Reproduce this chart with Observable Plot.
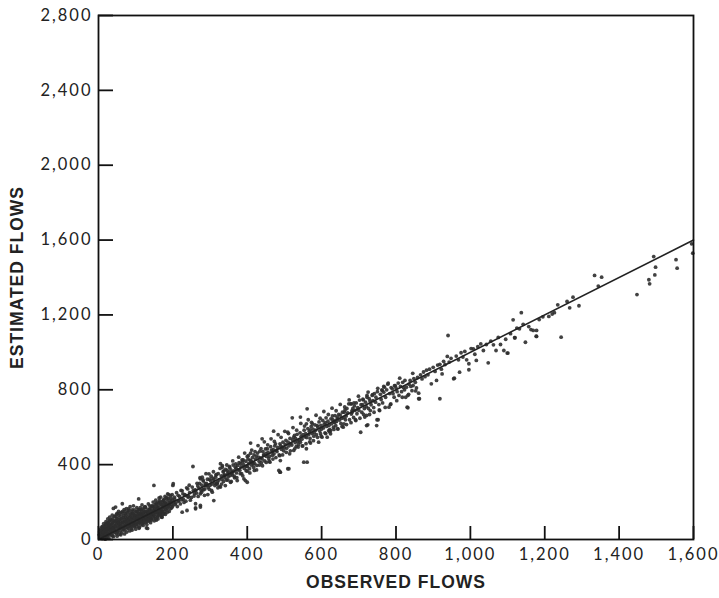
<!DOCTYPE html>
<html><head><meta charset="utf-8">
<script src="https://cdn.jsdelivr.net/npm/d3@7"></script>
<script src="https://cdn.jsdelivr.net/npm/@observablehq/plot@0.6"></script>
<style>
body{margin:0;background:#fff}
#chart svg{display:block}
#chart g[aria-label$="axis label"] text{font-family:"Liberation Sans",Arial,sans-serif;font-weight:bold;font-size:17.5px;letter-spacing:1px;fill:#222}
#chart g[aria-label$="tick label"] text{letter-spacing:2px}
</style></head><body><div id="chart"></div>
<script>
// Tick values
const xTicks = [0,200,400,600,800,1000,1200,1400,1600];
const yTicks = [0,400,800,1200,1600,2000,2400,2800];
// Reference line (estimated = observed)
const lineObs = [0,1600];
const lineEst = [0,1600];
// Points: [observed, estimated]
const lowCluster = [[2,25],[3,40],[4,8],[5,12],[6,55],[7,30],[8,18],[9,65],[10,5],[10,70],[11,42],[12,45],[13,22],[14,85],[15,20],[16,52],[17,35],[18,60],[18,2],[19,78],[20,35],[20,95],[21,48],[22,10],[23,62],[24,88],[25,50],[25,110],[26,30],[27,72],[28,75],[28,8],[29,98],[30,25],[30,120],[31,55],[32,60],[33,82],[34,44],[35,40],[35,105],[36,66],[37,130],[38,90],[38,20],[39,58],[40,15],[40,166],[41,76],[42,55],[43,100],[44,38],[45,70],[45,125],[46,173],[47,86],[48,30],[49,112],[50,100],[50,18],[50,140],[51,64],[52,45],[53,94],[54,150],[55,80],[55,130],[56,28],[57,108],[58,60],[59,74],[60,110],[60,25],[61,145],[62,35],[63,90],[64,191],[65,90],[65,150],[66,52],[67,118],[68,70],[69,160],[70,50],[70,30],[71,98],[72,120],[73,138],[74,64],[75,85],[75,165],[76,40],[77,112],[78,100],[79,152],[80,60],[81,164],[82,130],[83,78],[84,46],[85,95],[85,175],[86,122],[87,140],[88,75],[89,58],[90,115],[90,50],[91,158],[92,140],[93,92],[94,180],[95,85],[96,68],[97,128],[98,105],[99,146],[100,125],[100,55],[101,82],[102,70],[103,170],[104,112],[105,150],[106,96],[107,134],[108,110],[108,217],[109,60],[110,90],[110,65],[111,160],[112,130],[113,142],[114,78],[115,160],[116,104],[117,185],[118,100],[119,122],[120,140],[120,75],[121,88],[122,115],[123,152],[124,170],[125,175],[126,173],[127,108],[128,130],[129,62],[130,95],[130,80],[131,145],[132,150],[132,59],[133,118],[134,190],[135,120],[136,100],[137,160],[138,165],[139,136],[140,140],[140,90],[141,112],[142,110],[143,178],[144,150],[145,180],[146,126],[147,200],[148,130],[149,289],[150,155],[150,100],[151,168],[152,120],[153,142],[154,210],[155,190],[156,104],[157,176],[158,145],[159,128],[160,170],[160,110],[161,196],[162,135],[163,222],[164,158],[165,200],[166,140],[167,226],[168,160],[169,120],[170,185],[170,125],[171,119],[172,150],[173,206],[174,172],[175,210],[176,138],[177,192],[178,175],[179,230],[180,195],[180,135],[182,160],[184,215],[185,165],[186,244],[188,220],[189,180],[190,185],[190,150],[192,206],[194,234],[195,200],[196,168],[198,173],[198,240],[200,180],[200,289],[201,298],[202,199],[204,226],[205,215],[206,188],[208,195],[210,250],[212,176],[214,236],[215,205],[216,208],[218,230],[220,190],[222,262],[224,212],[225,260],[225,146],[227,244],[228,215],[230,198],[232,240],[234,235],[235,205],[237,276],[238,155],[240,270],[241,226],[242,230],[244,290],[245,250],[247,210],[250,225],[252,280],[254,390],[255,262],[257,232],[258,245],[260,265],[261,191],[261,164],[261,262],[261,169]];
const blobExtra = [[4,18],[6,32],[8,48],[9,10],[11,28],[12,60],[14,38],[15,72],[16,12],[17,50],[19,26],[20,68],[21,84],[22,40],[23,18],[24,56],[26,92],[27,44],[28,62],[29,30],[31,80],[32,104],[33,48],[34,68],[36,22],[37,88],[38,112],[39,40],[41,60],[42,96],[43,122],[44,72],[46,50],[47,102],[48,134],[49,82],[51,40],[52,116],[53,66],[54,90],[56,138],[57,76],[58,98],[59,46],[60,124],[61,86],[62,70],[63,110],[64,140],[66,96],[67,58],[68,128],[69,84],[70,108],[71,150],[72,76],[73,100],[74,132],[76,92],[77,62],[78,120],[79,144],[80,84],[81,106],[82,72],[83,156],[84,114],[86,96],[87,68],[88,132],[89,108],[90,148],[91,84],[92,120],[93,104],[94,136],[95,74],[96,158],[97,114],[98,90],[99,128],[101,110],[102,150],[103,88],[104,132],[105,118],[106,80],[107,160],[108,140],[109,100],[110,124],[111,92],[112,170],[113,114],[114,136],[115,96],[116,150],[117,128],[118,84],[119,164],[120,118],[121,142],[122,100],[123,130],[124,108],[125,150],[126,92],[127,170],[128,120],[129,146],[130,112],[131,134],[133,158],[134,100],[135,144],[136,126],[137,110],[138,180],[139,122],[141,150],[142,132],[143,104],[144,166],[146,140],[147,116],[148,176],[149,150],[151,134],[152,186],[153,110],[154,160],[156,146],[157,196],[158,120],[159,170],[161,150],[162,182],[163,128],[164,208],[166,164],[167,140],[168,190],[169,150],[171,176],[172,200],[173,134],[174,160],[176,214],[177,180],[178,150],[179,196],[181,170],[183,224],[184,186],[185,146],[187,200],[188,176],[189,240],[191,190],[193,164],[195,220],[197,186],[199,210]];
const midBand = [[264,248],[267,286],[270,275],[272,300],[274,173],[274,182],[274,244],[274,324],[276,262],[278,290],[279,333],[280,265],[282,312],[283,266],[285,236],[287,298],[288,289],[290,300],[292,289],[293,322],[295,278],[297,351],[298,268],[300,290],[301,315],[303,338],[305,296],[306,253],[308,326],[310,208],[310,320],[312,302],[315,333],[316,344],[318,296],[319,298],[320,305],[322,352],[324,318],[326,284],[328,280],[328,405],[330,340],[332,322],[333,395],[333,386],[335,362],[336,310],[338,346],[339,342],[340,330],[342,374],[344,318],[346,369],[347,352],[349,336],[350,360],[352,390],[354,342],[355,306],[356,372],[358,354],[359,360],[360,345],[362,398],[364,366],[366,330],[368,386],[370,380],[371,356],[373,315],[374,396],[376,372],[378,410],[380,370],[382,405],[383,388],[385,352],[387,416],[389,426],[390,400],[391,324],[392,380],[395,315],[396,418],[398,392],[400,390],[400,444],[400,365],[400,306],[402,430],[404,406],[406,378],[408,424],[409,461],[409,515],[410,420],[411,398],[413,413],[414,438],[416,404],[418,452],[419,369],[420,405],[422,430],[424,446],[426,396],[428,462],[430,440],[432,418],[434,472],[436,436],[438,410],[440,430],[440,538],[442,470],[444,452],[445,449],[447,420],[449,484],[450,460],[452,444],[454,485],[456,466],[458,432],[460,445],[461,413],[463,496],[465,478],[467,467],[468,450],[470,480],[471,579],[472,458],[474,500],[476,511],[478,476],[480,470],[482,492],[485,369],[486,452],[488,511],[488,360],[489,422],[489,360],[490,500],[492,482],[494,493],[496,520],[498,474],[500,490],[502,508],[504,530],[506,488],[509,573],[509,378],[510,520],[512,378],[512,500],[514,458],[515,540],[517,512],[520,505],[521,650],[522,532],[525,547],[525,476],[527,556],[529,518],[530,540],[532,498],[534,562],[536,524],[538,508],[540,530],[542,570],[543,520],[543,654],[545,552],[547,536],[549,500],[550,560],[552,413],[553,584],[555,548],[557,566],[559,618],[559,485],[560,545],[561,698],[561,413],[563,592],[565,560],[567,578],[569,540],[570,585],[570,515],[572,604],[574,566],[575,618],[577,590],[579,552],[580,570],[582,612],[584,584],[586,560],[588,609],[590,600],[592,520],[593,628],[595,580],[597,565],[598,610],[600,590],[601,547],[603,636],[605,596],[607,616],[609,570],[610,625],[612,650],[614,604],[615,547],[617,632],[619,582],[620,610],[622,588],[624,565],[624,582],[625,645],[627,618],[629,660],[630,640],[632,600],[634,626],[635,632],[635,627],[636,662],[638,608],[640,630],[642,654],[642,645],[644,590],[646,668],[648,638]];
const midExtra = [[265,300],[268,230],[273,330],[277,252],[281,318],[286,270],[289,352],[294,240],[299,322],[304,262],[309,362],[313,288],[317,348],[321,276],[327,380],[331,296],[337,366],[341,288],[345,398],[348,318],[353,384],[357,310],[361,420],[365,338],[369,404],[372,330],[377,440],[381,352],[386,426],[388,340],[393,462],[397,368],[403,448],[407,356],[412,478],[417,386],[421,470],[425,372],[429,502],[433,398],[437,486],[441,394],[446,522],[451,412],[455,506],[459,418],[464,538],[469,430],[473,524],[477,438],[483,560],[487,448],[491,546],[495,452],[501,578],[505,466],[511,566],[516,474],[523,598],[528,486],[533,584],[537,494],[544,620],[548,500],[554,606],[558,512],[564,640],[568,522],[573,626],[578,528],[585,664],[589,546],[596,648],[599,552],[606,684],[611,566],[618,668],[621,576],[628,702],[633,588],[639,688],[643,592],[650,722],[655,604],[662,708],[667,614],[674,746],[679,624],[687,730],[692,636],[699,766],[703,648],[711,750],[716,654],[725,788],[729,668],[737,774],[741,680],[751,808],[755,692],[763,796],[771,706],[779,836],[786,724],[796,822],[802,742],[810,862],[817,760],[824,850],[834,776],[845,888],[853,794]];
const upperPoints = [[650,665],[652,620],[654,648],[656,680],[658,600],[660,650],[660,618],[661,680],[663,692],[664,640],[666,660],[668,700],[670,676],[673,725],[675,640],[678,725],[680,725],[680,670],[682,689],[682,680],[684,700],[686,652],[688,714],[690,690],[691,640],[693,730],[695,672],[697,704],[700,690],[702,745],[705,573],[706,720],[708,680],[710,720],[712,746],[713,668],[715,700],[718,734],[720,710],[721,663],[721,609],[722,760],[722,770],[724,613],[726,700],[728,752],[730,740],[731,689],[733,720],[736,770],[738,742],[740,705],[742,780],[745,734],[746,760],[748,609],[749,640],[750,790],[752,640],[754,721],[756,689],[758,776],[760,748],[762,800],[764,730],[767,787],[767,818],[769,814],[772,760],[775,800],[778,830],[781,707],[783,780],[785,721],[787,812],[790,805],[792,779],[795,760],[798,822],[800,810],[803,790],[806,836],[808,770],[812,818],[815,790],[818,840],[820,812],[823,800],[826,760],[828,814],[830,707],[832,770],[832,704],[835,830],[838,850],[840,818],[843,795],[846,823],[848,860],[852,840],[855,810],[858,866],[861,782],[861,752],[863,752],[866,880],[870,858],[874,895],[878,870],[882,905],[886,880],[890,910],[895,832],[900,920],[905,898],[909,850],[912,932],[918,752],[918,936],[922,910],[924,885],[928,952],[932,935],[938,978],[940,1090],[943,948],[948,968],[955,859],[957,862],[962,980],[968,960],[971,894],[975,998],[980,975],[985,1005],[990,960],[996,907],[996,939],[1002,1020],[1008,1019],[1012,990],[1016,957],[1020,1030],[1028,1045],[1035,1010],[1043,1042],[1048,944],[1055,1060],[1062,1040],[1069,1010],[1075,1080],[1081,1042],[1090,1010],[1095,1070],[1099,996],[1101,996],[1108,1100],[1115,1174],[1119,1078],[1120,1078],[1125,1130],[1132,1126],[1137,1212],[1142,1150],[1148,1054],[1157,1138],[1163,1122],[1169,1117],[1177,1086],[1178,1117],[1178,1085],[1185,1175],[1195,1190],[1211,1192],[1220,1205],[1226,1212],[1235,1254],[1244,1081],[1260,1272],[1267,1238],[1276,1295],[1292,1249],[1334,1411],[1344,1354],[1353,1402],[1448,1309],[1480,1388],[1482,1366],[1493,1512],[1496,1414],[1498,1455],[1553,1495],[1556,1450],[1595,1580],[1598,1530]];

const points = [...lowCluster, ...blobExtra, ...midBand, ...midExtra, ...upperPoints].map(([o, e]) => ({o, e}));
const line = lineObs.map((o, i) => ({o, e: lineEst[i]}));
const fmt = d3.format(",");
const W = 719, H = 598, mT = 15, mR = 26, mB = 59, mL = 98;
const innerW = W - mL - mR, innerH = H - mT - mB;

const chart = Plot.plot({
  width: W, height: H,
  marginTop: mT, marginRight: mR, marginBottom: mB, marginLeft: mL,
  style: {fontFamily: "Lato, 'DejaVu Sans', sans-serif", fontSize: "16.5px", color: "#222", background: "#fff"},
  x: {domain: [0, 1600]},
  y: {domain: [0, 2800]},
  marks: [
    Plot.dot(points, {x: "o", y: "e", r: 1.9, fill: "#2e2e2e", fillOpacity: 0.9, stroke: null}),
    Plot.line(line, {x: "o", y: "e", stroke: "#222", strokeWidth: 1.6}),
    // inward tick marks
    Plot.tickX(xTicks, {x: d => d, insetTop: innerH - 13, stroke: "#111", strokeWidth: 1.8}),
    Plot.tickY(yTicks, {y: d => d, insetRight: innerW - 15, stroke: "#111", strokeWidth: 1.8}),
    Plot.axisX({ticks: xTicks, tickSize: 0, tickPadding: 9, tickFormat: fmt, label: "OBSERVED FLOWS", labelAnchor: "center", labelArrow: "none", labelOffset: 48}),
    Plot.axisY({ticks: yTicks, tickSize: 0, tickPadding: 6, tickFormat: fmt, label: "ESTIMATED FLOWS", labelAnchor: "center", labelArrow: "none", labelOffset: 88}),
    Plot.frame({stroke: "#111", strokeWidth: 1.8})
  ]
});
document.getElementById("chart").append(chart);
</script>
</body></html>
